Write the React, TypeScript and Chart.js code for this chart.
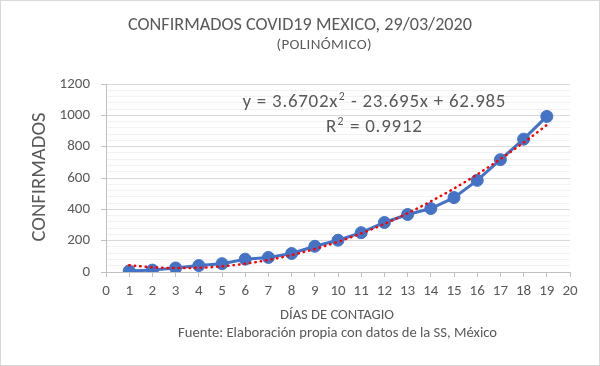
import React, { useEffect, useRef } from "react";
import { Chart, registerables } from "chart.js";

Chart.register(...registerables);

const days = [1, 2, 3, 4, 5, 6, 7, 8, 9, 10, 11, 12, 13, 14, 15, 16, 17, 18, 19];
const confirmed = [7, 12, 26, 41, 53, 82, 93, 118, 164, 203, 251, 316, 367, 405, 475, 585, 717, 848, 993];
// trendline values (y = 3.6702x² - 23.695x + 62.985)
const trend = [43, 30, 25, 27, 36, 53, 77, 108, 147, 193, 246, 307, 375, 451, 533, 623, 721, 826, 938];

const titleText = "CONFIRMADOS COVID19 MEXICO, 29/03/2020";
const subtitleText = "(POLINÓMICO)";
const yTitle = "CONFIRMADOS";
const xTitle = "DÍAS DE CONTAGIO";
const sourceText = "Fuente: Elaboración propia con datos de la SS, México";
// equation parts: [text, isSuperscript]
const eqParts: [string, boolean][] = [["y = 3.6702x", false], ["2", true], [" - 23.695x + 62.985", false]];
const r2Parts: [string, boolean][] = [["R", false], ["2", true], [" = 0.9912", false]];

const FONT = "Carlito, Calibri, Lato, sans-serif";
const GREY = "#595959";

// draws (possibly superscripted) text centred at cx,cy, fitted to a target width
function drawFit(ctx: any, parts: [string, boolean][], cx: number, cy: number, target: number, maxSize: number) {
  const measure = (size: number) => {
    const sup = size * 0.62;
    return parts.map(([t, s]) => {
      ctx.font = `${s ? sup : size}px ${FONT}`;
      return ctx.measureText(t).width + (s ? 1 : 0);
    });
  };
  const w0 = measure(20).reduce((a, b) => a + b, 0);
  const size = Math.min(maxSize, (20 * target) / w0);
  const widths = measure(size);
  const total = widths.reduce((a, b) => a + b, 0);
  const nChars = parts.reduce((a, [t]) => a + t.length, 0);
  const spacing = Math.max(0, (target - total) / Math.max(1, nChars - 1));
  let x = cx - target / 2;
  if (spacing === 0) x = cx - total / 2;
  ctx.textAlign = "left";
  ctx.textBaseline = "middle";
  ctx.letterSpacing = `${spacing}px`;
  parts.forEach(([t, s], i) => {
    ctx.font = `${s ? size * 0.62 : size}px ${FONT}`;
    ctx.fillText(t, x + (s ? 0.5 : 0), s ? cy - size * 0.28 : cy);
    x += widths[i] + spacing * t.length;
  });
  ctx.letterSpacing = "0px";
}

const textPlugin = {
  id: "texts",
  beforeDraw(chart: any) {
    const ctx = chart.ctx;
    ctx.save();
    ctx.fillStyle = "#ffffff";
    ctx.fillRect(0, 0, chart.width, chart.height);
    ctx.restore();
  },
  afterDraw(chart: any) {
    const ctx = chart.ctx;
    ctx.save();
    ctx.fillStyle = GREY;
    drawFit(ctx, [[titleText, false]], 300, 25.5, 344, 20);
    drawFit(ctx, [[subtitleText, false]], 324, 45, 95, 15);
    drawFit(ctx, [[xTitle, false]], 337, 315, 114, 16);
    drawFit(ctx, [[sourceText, false]], 337.5, 333, 319, 16);
    drawFit(ctx, eqParts, 374, 102, 263, 19);
    drawFit(ctx, r2Parts, 374, 127, 96, 19);
    ctx.save();
    ctx.translate(40, 177);
    ctx.rotate(-Math.PI / 2);
    drawFit(ctx, [[yTitle, false]], 0, 0, 129, 21);
    ctx.restore();
    ctx.strokeStyle = "#d9d9d9";
    ctx.lineWidth = 1;
    ctx.strokeRect(0.5, 0.5, chart.width - 1, chart.height - 1);
    ctx.restore();
  },
};

export default function App() {
  const ref = useRef<HTMLCanvasElement>(null);
  useEffect(() => {
    if (!ref.current) return;
    const chart = new Chart(ref.current, {
      type: "line",
      data: {
        datasets: [
          {
            label: "Tendencia",
            data: days.map((d, i) => ({ x: d, y: trend[i] })),
            borderColor: "#ff0000",
            borderWidth: 2.5,
            borderDash: [0.5, 5],
            borderCapStyle: "round",
            pointRadius: 0,
            cubicInterpolationMode: "monotone",
            fill: false,
            order: 0,
          },
          {
            label: "Confirmados",
            data: days.map((d, i) => ({ x: d, y: confirmed[i] })),
            borderColor: "#4472c4",
            backgroundColor: "#4472c4",
            borderWidth: 3,
            pointRadius: 6,
            pointBorderWidth: 1,
            pointBorderColor: "#4472c4",
            pointBackgroundColor: "#4472c4",
            fill: false,
            order: 1,
          },
        ],
      },
      options: {
        responsive: false,
        animation: false,
        devicePixelRatio: 1,
        layout: { padding: { left: 0, top: 84, right: 30, bottom: 0 } },
        plugins: { legend: { display: false }, tooltip: { enabled: false }, title: { display: false } },
        scales: {
          x: {
            type: "linear",
            min: 0,
            max: 20,
            afterFit: (s: any) => { s.height = 94; },
            border: { display: true, color: "#bfbfbf", width: 1 },
            grid: { drawOnChartArea: false, drawTicks: true, tickLength: 5, color: "#bfbfbf" },
            ticks: { stepSize: 1, autoSkip: false, maxRotation: 0, color: GREY, padding: 5, font: { family: FONT, size: 15 } },
          },
          y: {
            min: 0,
            max: 1200,
            afterFit: (s: any) => { s.width = 106; },
            border: { display: true, color: "#bfbfbf", width: 1 },
            grid: {
              drawOnChartArea: true,
              drawTicks: true,
              tickLength: 5,
              color: (c: any) => (c.tick && c.tick.value % 200 === 0 ? "#d9d9d9" : "#f2f2f2"),
              tickColor: (c: any) => (c.tick && c.tick.value % 200 === 0 ? "#bfbfbf" : "rgba(0,0,0,0)"),
            },
            ticks: {
              stepSize: 40,
              autoSkip: false,
              color: GREY,
              padding: 11,
              font: { family: FONT, size: 15 },
              callback: (v: any) => (Number(v) % 200 === 0 ? String(v) : ""),
            },
          },
        },
      },
      plugins: [textPlugin],
    } as any);
    return () => chart.destroy();
  }, []);
  return (
    <div style={{ position: "absolute", left: 0, top: 0, width: 600, height: 366 }}>
      <canvas ref={ref} width={600} height={366} style={{ display: "block" }} />
    </div>
  );
}
